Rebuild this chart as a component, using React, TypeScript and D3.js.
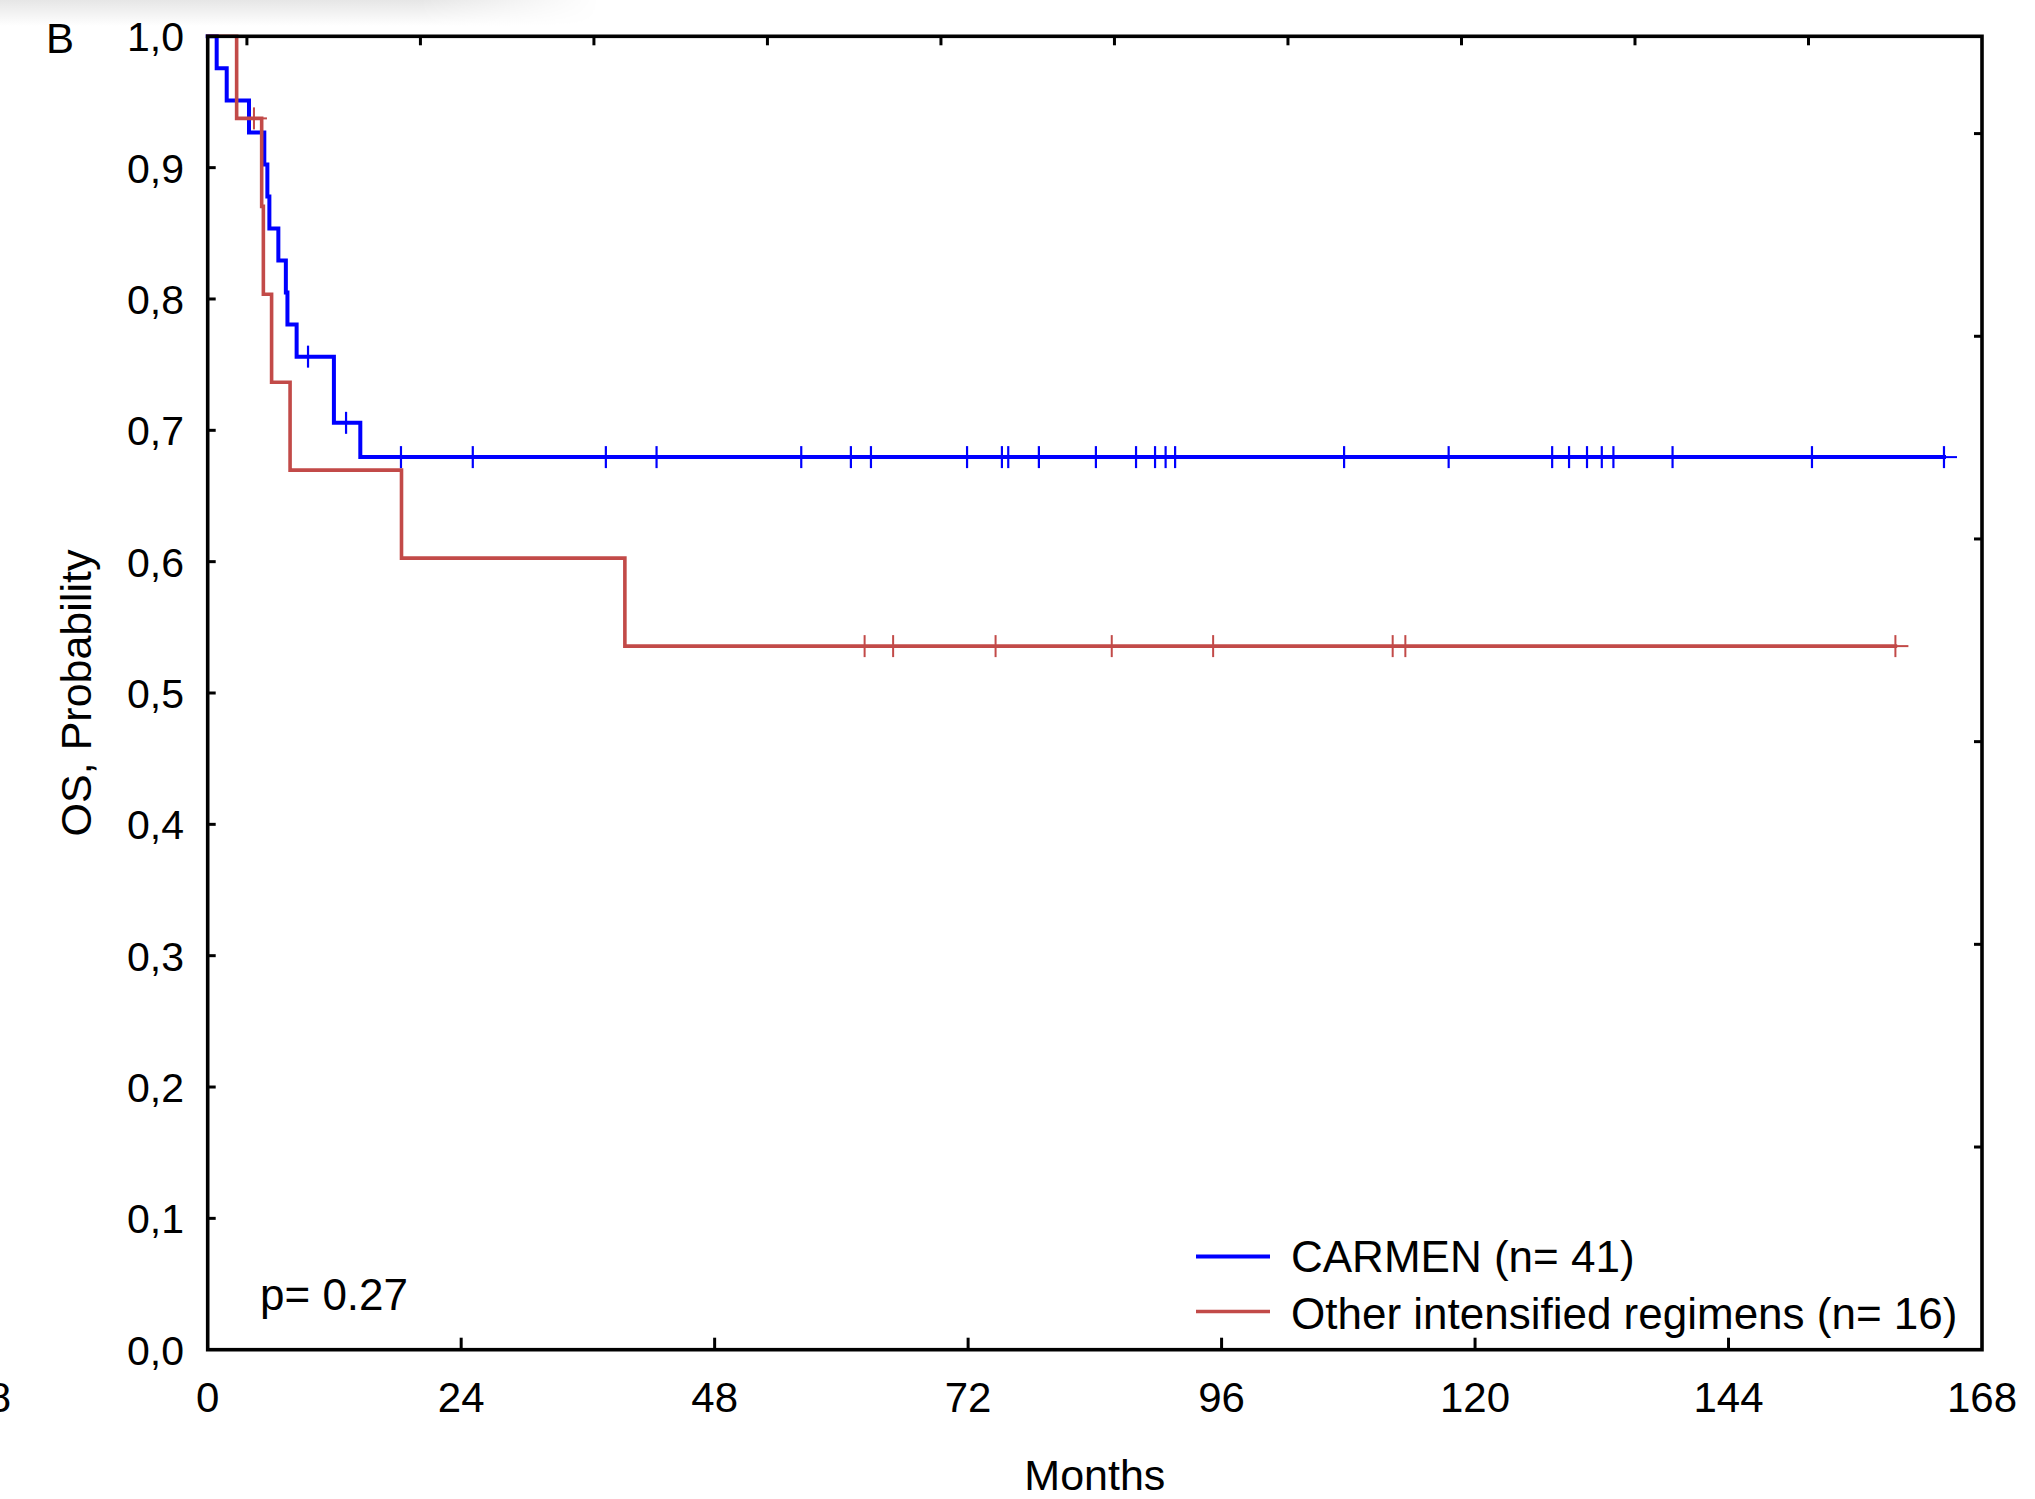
import React from 'react';
import * as d3 from 'd3';

// ---- Data ----
const xTickValues = [0, 24, 48, 72, 96, 120, 144, 168];
const yTickValues = [0, 0.1, 0.2, 0.3, 0.4, 0.5, 0.6, 0.7, 0.8, 0.9, 1.0];
const topTickValues = [0, 1, 2, 3, 4, 5, 6, 7, 8, 9];
const rightTickValues = [1, 2, 3, 4, 5, 6];

// CARMEN (n= 41): step times (months) and survival after each step
const carmenTimes = [0, 0.85, 1.8, 3.91, 5.36, 5.65, 5.84, 6.69, 7.4, 7.55, 8.42, 11.95, 14.45];
const carmenSurv = [1, 0.9756, 0.9512, 0.9268, 0.9024, 0.878, 0.8537, 0.8293, 0.8049, 0.7805, 0.7561, 0.7057, 0.6796];
const carmenCensored = [9.5, 13.1, 18.3, 25.1, 37.7, 42.5, 56.2, 60.9, 62.8, 71.9, 75.2, 75.8, 78.7, 84.1, 87.9, 89.7, 90.7, 91.6, 107.6, 117.5, 127.3, 128.9, 130.6, 132.0, 133.1, 138.7, 151.9, 164.4];

// Other intensified regimens (n= 16)
const otherTimes = [0, 2.74, 5.11, 5.27, 6.05, 7.8, 18.35, 39.5];
const otherSurv = [1, 0.9375, 0.8705, 0.8036, 0.7366, 0.6697, 0.6027, 0.5357];
const otherCensored = [4.38, 62.2, 64.9, 74.6, 85.6, 95.2, 112.2, 113.4, 159.8];

const seriesNames = ['CARMEN (n= 41)', 'Other intensified regimens (n= 16)'];
const seriesColors = ['#0000FF', '#C24A48'];

const W = 2035;
const H = 1499;
const FONT = '"Liberation Sans", Arial, sans-serif';

function survAt(times: number[], surv: number[], t: number) {
  let s = surv[0];
  for (let i = 0; i < times.length; i++) if (times[i] <= t) s = surv[i];
  return s;
}

export default function App() {
  const L = 207.7, R = 1982, T = 36.3, B = 1349.7;
  const x = d3.scaleLinear().domain([0, 168]).range([L, R]);
  const y = d3.scaleLinear().domain([0, 1]).range([B, T]);
  const xTop = d3.scaleLinear().domain([-0.226, 10]).range([L, R]);
  const yRight = d3.scaleLinear().domain([0, 6.48]).range([B, T]);

  const line = d3
    .line<[number, number]>()
    .x((d) => x(d[0]))
    .y((d) => y(d[1]))
    .curve(d3.curveStepAfter);

  const makePts = (times: number[], surv: number[], censored: number[]) => {
    const pts: [number, number][] = times.map((t, i) => [t, surv[i]]);
    const last = d3.max(censored) as number;
    pts.push([last, surv[surv.length - 1]]);
    return pts;
  };

  const series = [
    { times: carmenTimes, surv: carmenSurv, cens: carmenCensored, color: seriesColors[0], w: 4, cw: 2.2 },
    { times: otherTimes, surv: otherSurv, cens: otherCensored, color: seriesColors[1], w: 3.6, cw: 2 },
  ];

  return (
    <svg
      width={W}
      height={H}
      style={{ position: 'absolute', left: 0, top: 0, display: 'block', background: '#fff' }}
      fontFamily={FONT}
    >
      <defs>
        <linearGradient id="shadeV" x1="0" y1="0" x2="0" y2="1">
          <stop offset="0" stopColor="#e6e6e6" />
          <stop offset="1" stopColor="#ffffff" />
        </linearGradient>
        <linearGradient id="fadeH" x1="0" y1="0" x2="1" y2="0">
          <stop offset="0" stopColor="#fff" stopOpacity="1" />
          <stop offset="0.7" stopColor="#fff" stopOpacity="1" />
          <stop offset="1" stopColor="#fff" stopOpacity="0" />
        </linearGradient>
        <mask id="shadeMask">
          <rect x={0} y={0} width={600} height={26} fill="url(#fadeH)" />
        </mask>
      </defs>
      <rect x={0} y={0} width={W} height={H} fill="#fff" />
      <rect x={0} y={0} width={600} height={26} fill="url(#shadeV)" mask="url(#shadeMask)" />

      {/* curves */}
      {series.map((s, i) => (
        <g key={i}>
          <path
            d={line(makePts(s.times, s.surv, s.cens)) || ''}
            fill="none"
            stroke={s.color}
            strokeWidth={s.w}
            strokeLinejoin="miter"
            strokeLinecap="square"
          />
          {s.cens.map((c, j) => {
            const cx = x(c);
            const cy = y(survAt(s.times, s.surv, c));
            return (
              <g key={j} stroke={s.color} strokeWidth={s.cw}>
                <line x1={cx} x2={cx} y1={cy - 11} y2={cy + 11} />
                <line x1={cx - 13} x2={cx + 13} y1={cy} y2={cy} strokeWidth={2} />
              </g>
            );
          })}
        </g>
      ))}

      {/* frame */}
      <rect x={L} y={T} width={R - L} height={B - T} fill="none" stroke="#000" strokeWidth={3.6} />

      {/* bottom ticks (inward) */}
      {xTickValues.slice(1, -1).map((v) => (
        <line key={'bx' + v} x1={x(v)} x2={x(v)} y1={B} y2={B - 12} stroke="#000" strokeWidth={3} />
      ))}
      {/* top ticks */}
      {topTickValues.map((v) => (
        <line key={'tx' + v} x1={xTop(v)} x2={xTop(v)} y1={T} y2={T + 9} stroke="#000" strokeWidth={3} />
      ))}
      {/* left ticks */}
      {yTickValues.slice(1, -1).map((v) => (
        <line key={'ly' + v} x1={L} x2={L + 8} y1={y(v)} y2={y(v)} stroke="#000" strokeWidth={3} />
      ))}
      {/* right ticks */}
      {rightTickValues.map((v) => (
        <line key={'ry' + v} x1={R} x2={R - 8} y1={yRight(v)} y2={yRight(v)} stroke="#000" strokeWidth={3} />
      ))}

      {/* tick labels */}
      {xTickValues.map((v) => (
        <text key={'xl' + v} x={x(v)} y={1412} fontSize={42} textAnchor="middle" fill="#000">
          {v}
        </text>
      ))}
      {yTickValues.map((v) => (
        <text key={'yl' + v} x={184} y={y(v) + 15} fontSize={41} textAnchor="end" fill="#000">
          {v.toFixed(1).replace('.', ',')}
        </text>
      ))}
      {/* partially visible label from neighbouring panel */}
      <text x={11} y={1412} fontSize={42} textAnchor="end" fill="#000">168</text>

      {/* axis titles */}
      <text x={(L + R) / 2} y={1490} fontSize={43} textAnchor="middle" fill="#000">Months</text>
      <text
        transform={`translate(91, ${(T + B) / 2}) rotate(-90)`}
        fontSize={43}
        textAnchor="middle"
        fill="#000"
      >
        OS, Probability
      </text>

      {/* panel letter */}
      <text x={46} y={53} fontSize={42} fill="#000">B</text>

      {/* p-value */}
      <text x={260} y={1310} fontSize={44} fill="#000">p= 0.27</text>

      {/* legend */}
      {seriesNames.map((n, i) => (
        <g key={'lg' + i}>
          <line
            x1={1196}
            x2={1270}
            y1={1256.5 + i * 55}
            y2={1256.5 + i * 55}
            stroke={seriesColors[i]}
            strokeWidth={i === 0 ? 4 : 3.6}
          />
          <text x={1291} y={1272 + i * 56.5} fontSize={44} fill="#000">
            {n}
          </text>
        </g>
      ))}
    </svg>
  );
}
